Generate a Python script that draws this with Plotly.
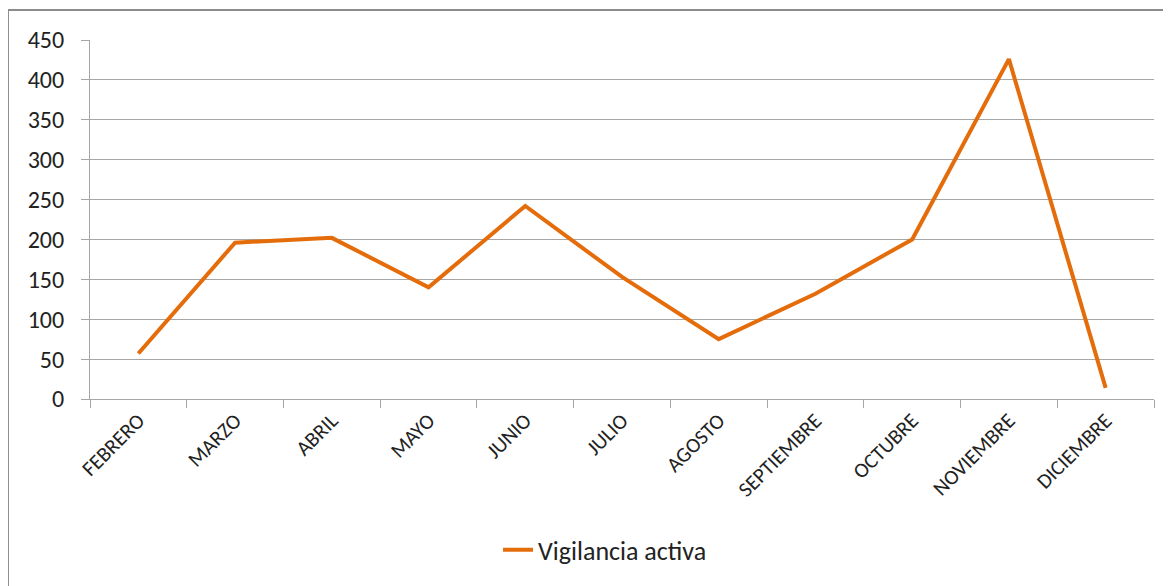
import plotly.graph_objects as go

months = ["FEBRERO", "MARZO", "ABRIL", "MAYO", "JUNIO", "JULIO", "AGOSTO",
          "SEPTIEMBRE", "OCTUBRE", "NOVIEMBRE", "DICIEMBRE"]
vigilancia_activa = [57, 196, 202, 140, 242, 153, 75, 132, 200, 426, 14]
y_ticks = [0, 50, 100, 150, 200, 250, 300, 350, 400, 450]

FONT = "Calibri, Carlito, Lato, 'Liberation Sans', sans-serif"

fig = go.Figure()
fig.add_trace(go.Scatter(
    x=months, y=vigilancia_activa, mode="lines", name="Vigilancia activa",
    line=dict(color="#E46C0A", width=4),
))

fig.update_layout(
    width=1163, height=578,
    margin=dict(l=82, r=17, t=32, b=187),
    paper_bgcolor="white", plot_bgcolor="white",
    font=dict(family=FONT, color="#222222"),
    showlegend=True,
    legend=dict(orientation="h", x=0.3835, xanchor="left", y=-0.42, yanchor="middle",
                font=dict(size=26, family=FONT, color="#222222")),
    xaxis=dict(
        type="category", tickson="boundaries", ticks="outside", ticklen=8,
        tickcolor="#A6A6A6", showgrid=False, showline=True, linecolor="#A6A6A6",
        linewidth=1, tickangle=-45, tickfont=dict(size=21, family=FONT),
        range=[-0.5, len(months) - 0.5],
    ),
    yaxis=dict(
        range=[0, 450], tickvals=y_ticks, ticks="outside", ticklen=8,
        tickcolor="#A6A6A6", showgrid=True, gridcolor="#A6A6A6", gridwidth=1,
        showline=True, linecolor="#A6A6A6", linewidth=1, zeroline=False,
        tickfont=dict(size=24, family=FONT), ticklabelstandoff=12,
    ),
    shapes=[dict(type="rect", xref="paper", yref="paper",
                 x0=-0.0771, x1=1.1, y0=-1.0, y1=1.0836,
                 line=dict(color="#8C8C8C", width=2), fillcolor="rgba(0,0,0,0)",
                 layer="below")],
)

fig.write_html("out.html")
